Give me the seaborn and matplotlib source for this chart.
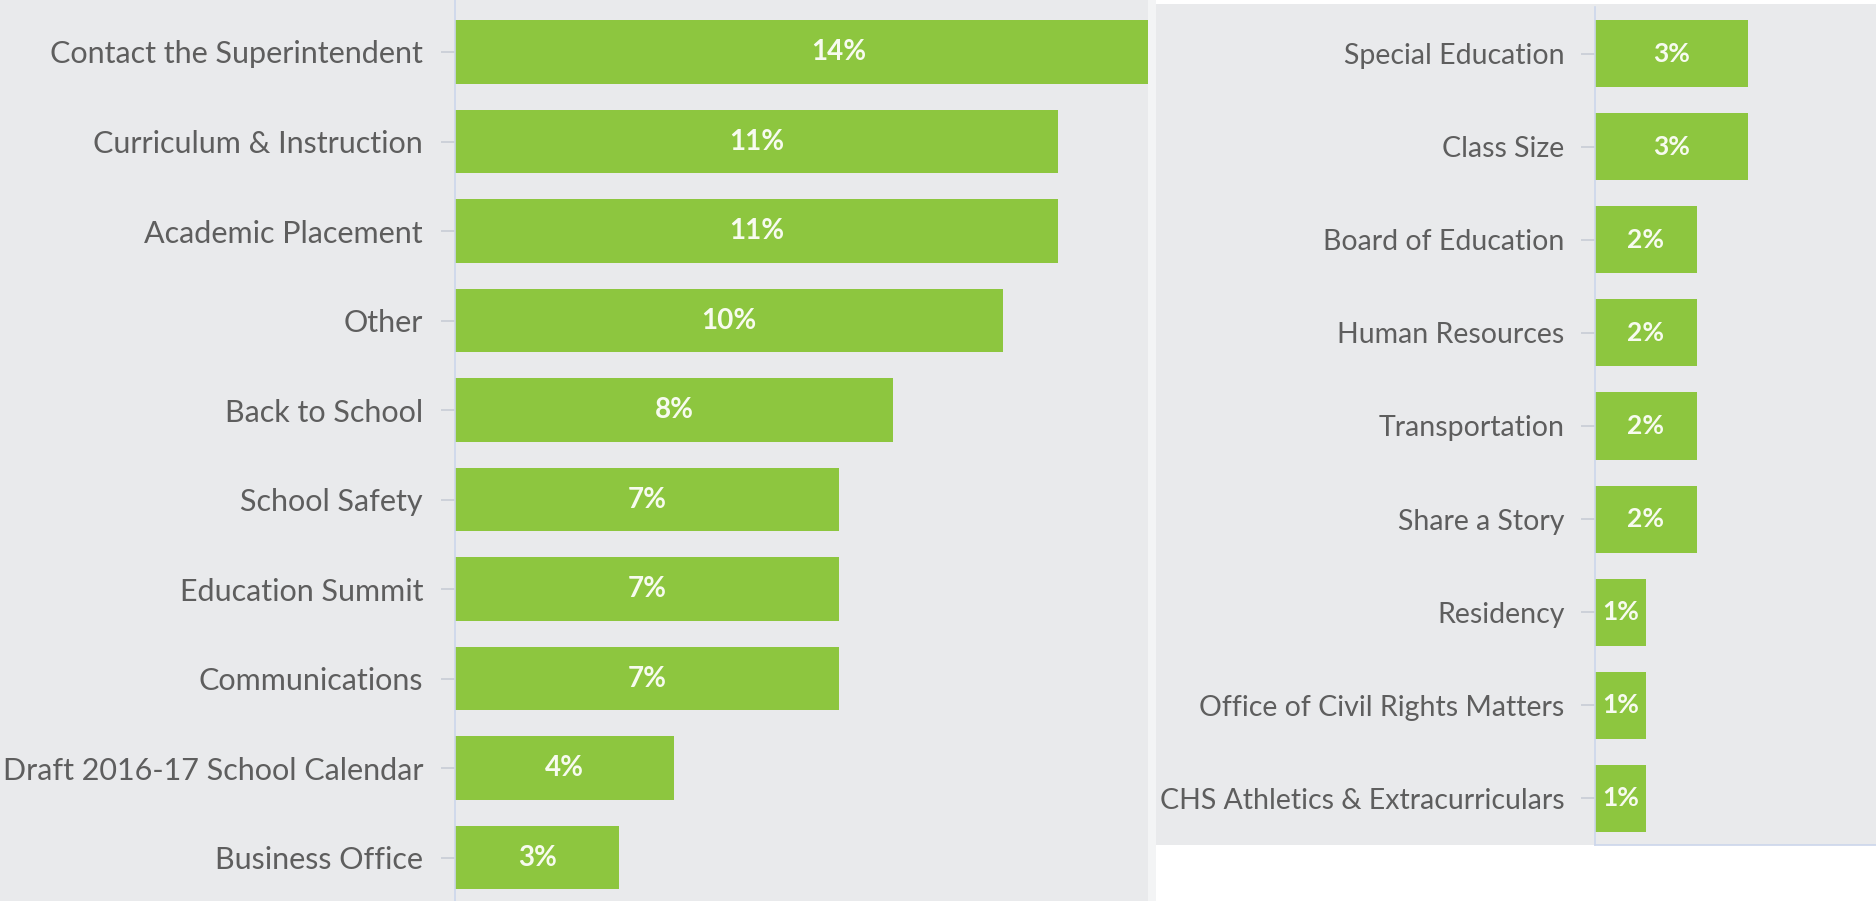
import matplotlib
matplotlib.use("Agg")
import matplotlib.pyplot as plt
import seaborn as sns
import pandas as pd
from matplotlib.patches import Rectangle

left_categories = ["Contact the Superintendent", "Curriculum & Instruction", "Academic Placement",
                   "Other", "Back to School", "School Safety", "Education Summit",
                   "Communications", "Draft 2016-17 School Calendar", "Business Office"]
left_values = [14, 11, 11, 10, 8, 7, 7, 7, 4, 3]

right_categories = ["Special Education", "Class Size", "Board of Education", "Human Resources",
                    "Transportation", "Share a Story", "Residency",
                    "Office of Civil Rights Matters", "CHS Athletics & Extracurriculars"]
right_values = [3, 3, 2, 2, 2, 2, 1, 1, 1]

W, H = 1876, 901
BG = "#e9eaec"
GREEN = "#8dc63f"
TEXT = "#5e5e5e"
SPINE = "#ccd6eb"

sns.set_theme(style="white")
plt.rcParams["font.family"] = ["Lato", "DejaVu Sans"]

fig = plt.figure(figsize=(W / 100, H / 100), dpi=100)
fig.patch.set_facecolor("white")

def fx(px):
    return px / W

def fy(py):
    return 1 - py / H

# panel backgrounds (two screenshots side by side)
fig.patches.append(Rectangle((0, 0), fx(1148), 1, transform=fig.transFigure,
                             facecolor=BG, edgecolor="none", zorder=-10))
fig.patches.append(Rectangle((fx(1148), 0), fx(8), 1, transform=fig.transFigure,
                             facecolor="#f3f4f5", edgecolor="none", zorder=-10))
fig.patches.append(Rectangle((fx(1156), fy(845)), fx(W - 1156), fy(4) - fy(845),
                             transform=fig.transFigure, facecolor=BG, edgecolor="none", zorder=-10))

def style_axis(ax, bottom_spine, labelsize, pad):
    ax.set_facecolor("none")
    for s in ["top", "right"]:
        ax.spines[s].set_visible(False)
    ax.spines["bottom"].set_visible(bottom_spine)
    ax.spines["left"].set_color(SPINE)
    ax.spines["left"].set_linewidth(1.2)
    ax.spines["bottom"].set_color(SPINE)
    ax.spines["bottom"].set_linewidth(1.2)
    ax.set_xlabel("")
    ax.set_ylabel("")
    ax.set_xticks([])
    ax.tick_params(axis="y", left=True, length=10, width=1.2, color="#c8cdd6",
                   pad=pad, labelsize=labelsize, labelcolor=TEXT)

# Left panel
axL = fig.add_axes([fx(455), 0, fx(1148 - 455), 1])
dfL = pd.DataFrame({"cat": left_categories, "val": left_values})
sns.barplot(data=dfL, y="cat", x="val", orient="h", color=GREEN, saturation=1,
            width=0.71, linewidth=0, ax=axL)
axL.set_xlim(0, 693 / 54.8)
axL.set_ylim(9.486, -0.581)
style_axis(axL, False, 22, 13)
for i, v in enumerate(left_values):
    axL.text(v / 2, i, f"{v}%", ha="center", va="center", color="#f7fbef",
             fontsize=20, fontweight="bold", clip_on=False)

# Right panel
axR = fig.add_axes([fx(1595), fy(845), fx(W - 1595), fy(7) - fy(845)])
dfR = pd.DataFrame({"cat": right_categories, "val": right_values})
sns.barplot(data=dfR, y="cat", x="val", orient="h", color=GREEN, saturation=1,
            width=0.72, linewidth=0, ax=axR)
axR.set_xlim(0, 281 / 50.85)
axR.set_ylim(8.5, -0.5)
style_axis(axR, True, 20.5, 12)
for i, v in enumerate(right_values):
    axR.text(v / 2, i, f"{v}%", ha="center", va="center", color="#f7fbef",
             fontsize=19, fontweight="bold")

fig.savefig("out.png", dpi=100, facecolor=fig.get_facecolor())
